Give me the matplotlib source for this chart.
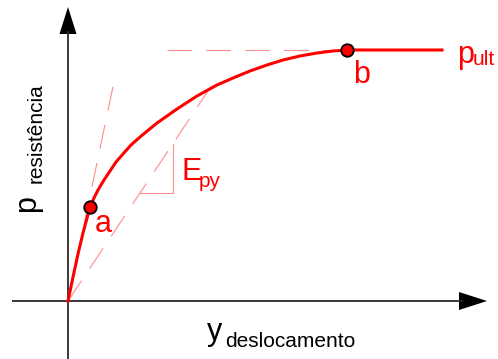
import matplotlib
matplotlib.use("Agg")
import matplotlib.pyplot as plt
from matplotlib.patches import Polygon

plt.rcParams['font.family'] = ['Liberation Sans', 'DejaVu Sans']

# p-y curve: displacement vs. soil resistance (arbitrary units)
displacement = [0, 5, 10, 15, 22, 26, 30, 36, 42, 48, 55, 63, 72, 89, 109, 129, 149, 165,
                182, 199, 215, 232, 249, 265, 279, 374]
resistance = [0, 24, 47, 68, 94, 103, 111, 121, 130, 139, 147, 156, 164, 178, 192, 205,
              216, 223, 230, 236, 241, 245, 248, 250, 251, 251]

p_ult = 251
point_a = (22, 94)
point_b = (279, 251)
tangent_end = (47, 224)     # initial tangent stiffness line
secant_end = (144, 216)     # secant modulus E_py line
pult_line_start = 99
slope_run = (72, 105)       # horizontal leg of the slope triangle

RED = '#ff0000'
LIGHT_RED = '#ff8c8c'
AXIS = '#2a2a2a'

W, H = 498, 359
ox, oy = 68, 301
fig = plt.figure(figsize=(W / 100, H / 100), dpi=100)
ax = fig.add_axes([0, 0, 1, 1])
ax.set_xlim(-ox, W - ox)
ax.set_ylim(oy - H, oy)
ax.axis('off')

# axes with arrowheads
ax.plot([0, 0], [oy - H, 270], color=AXIS, lw=1.3, solid_capstyle='butt')
ax.plot([-56, 395], [0, 0], color=AXIS, lw=1.3, solid_capstyle='butt')
ax.add_patch(Polygon([[0, 294], [-8.5, 267], [8.5, 267]], closed=True, color='black', lw=0))
ax.add_patch(Polygon([[419, 0], [391, 9], [391, -9]], closed=True, color='black', lw=0))

dash = dict(color=LIGHT_RED, lw=0.8, dashes=(22, 13))
ax.plot([0, tangent_end[0]], [0, tangent_end[1]], **dash)
ax.plot([0, secant_end[0]], [0, secant_end[1]], **dash)
ax.plot([pult_line_start, point_b[0]], [p_ult, p_ult], **dash)

# slope triangle on the secant line
k = secant_end[1] / secant_end[0]
x0, x1 = slope_run
ax.plot([x0, x1, x1], [k * x0, k * x0, k * x1], color=LIGHT_RED, lw=0.8)

# curve
ax.plot(displacement, resistance, color=RED, lw=2.2, solid_joinstyle='round')

for pt in (point_a, point_b):
    ax.plot(*pt, 'o', ms=9, mfc=RED, mec='black', mew=1.3, zorder=5)

big, small = 22, 15
ax.text(27, 69, 'a', color=RED, fontsize=big, ha='left', va='baseline')
ax.text(285, 218, 'b', color=RED, fontsize=big, ha='left', va='baseline')
ax.text(389, 238, 'p', color=RED, fontsize=big, ha='left', va='baseline')
ax.text(405, 236, 'ult', color=RED, fontsize=small, ha='left', va='baseline')
ax.text(113, 121, 'E', color=RED, fontsize=big, ha='left', va='baseline')
ax.text(131, 114, 'py', color=RED, fontsize=small, ha='left', va='baseline')

ax.text(139, -39, 'y', color='black', fontsize=big, ha='left', va='baseline')
ax.text(157, -46, 'deslocamento', color='black', fontsize=small, ha='left', va='baseline')
ax.text(-33, 89, 'p', color='black', fontsize=big, rotation=90, ha='left', va='baseline',
        rotation_mode='anchor')
ax.text(-26, 118, 'resistência', color='black', fontsize=small, rotation=90, ha='left',
        va='baseline', rotation_mode='anchor')

fig.savefig('out.png', dpi=100)
